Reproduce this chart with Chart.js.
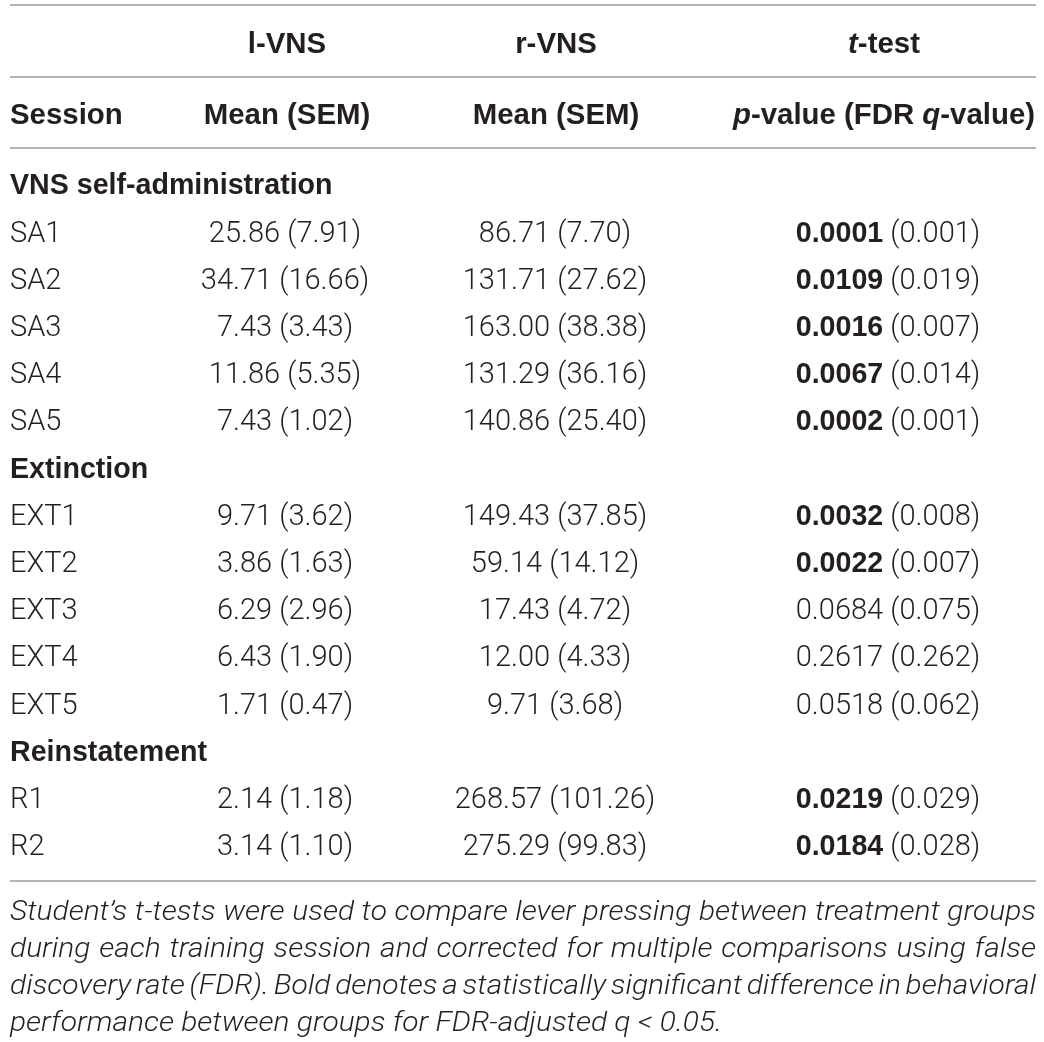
<!DOCTYPE html>
<html><head><meta charset="utf-8">
<script src="https://cdn.jsdelivr.net/npm/chart.js@4.4.1/dist/chart.umd.min.js"></script>
<style>html,body{margin:0;padding:0;background:#fff;overflow:hidden}#wrap{width:1044px;height:1042px}</style>
</head><body><div id="wrap"><canvas id="c" width="1044" height="1042"></canvas></div>
<script>
// ---- data ----
const sections = ["VNS self-administration", "Extinction", "Reinstatement"];
const sessionLabels = ["SA1","SA2","SA3","SA4","SA5","EXT1","EXT2","EXT3","EXT4","EXT5","R1","R2"];
const sessionSection = [0,0,0,0,0,1,1,1,1,1,2,2];
const lMean = [25.86,34.71,7.43,11.86,7.43,9.71,3.86,6.29,6.43,1.71,2.14,3.14];
const lSem  = [7.91,16.66,3.43,5.35,1.02,3.62,1.63,2.96,1.90,0.47,1.18,1.10];
const rMean = [86.71,131.71,163.00,131.29,140.86,149.43,59.14,17.43,12.00,9.71,268.57,275.29];
const rSem  = [7.70,27.62,38.38,36.16,25.40,37.85,14.12,4.72,4.33,3.68,101.26,99.83];
const pValue = [0.0001,0.0109,0.0016,0.0067,0.0002,0.0032,0.0022,0.0684,0.2617,0.0518,0.0219,0.0184];
const qValue = [0.001,0.019,0.007,0.014,0.001,0.008,0.007,0.075,0.262,0.062,0.029,0.028];
const groupHeaders = [[{t:"l-VNS",s:"h"}],[{t:"r-VNS",s:"h"}],[{t:"t",s:"hi"},{t:"-test",s:"h"}]];
const columnHeaders = [
  [{t:"Session",s:"h"}],
  [{t:"Mean (SEM)",s:"h"}],
  [{t:"Mean (SEM)",s:"h"}],
  [{t:"p",s:"hi"},{t:"-value (FDR ",s:"h"},{t:"q",s:"hi"},{t:"-value)",s:"h"}]
];
const footnoteLines = [
  "Student\u2019s t-tests were used to compare lever pressing between treatment groups",
  "during each training session and corrected for multiple comparisons using false",
  "discovery rate (FDR). Bold denotes a statistically significant difference in behavioral",
  "performance between groups for FDR-adjusted q < 0.05."
];
const alpha = 0.05;

// ---- layout (not data) ----
const L = {
  colX: [10, 285, 555, 888],
  headX: [10, 287, 556, 884],
  colAlign: ["left","center","center","center"],
  groupRow: -3.0, headRow: -1.5,
  rules: [-3.79, -2.27, -0.76, 14.77],
  footBase0: 920, footStep: 37.1,
  lastLineEnd: 722,
  left: 10, right: 1036,
  size: 29, boldSize: 28.6, headSize: 29.4, footSize: 27.5,
  ink: "#231f20", rule: "#b3b4b6"
};
const LIGHT = "Roboto, 'Helvetica Neue', Arial, sans-serif";
const BOLD = "'Liberation Sans', Arial, Helvetica, sans-serif";
const fonts = {
  r: `300 ${L.size}px ${LIGHT}`,
  b: `700 ${L.boldSize}px ${BOLD}`,
  h: `700 ${L.headSize}px ${BOLD}`,
  hi: `italic 700 ${L.headSize}px ${BOLD}`,
  f: `italic 300 ${L.footSize}px ${LIGHT}`
};

// ---- build rows ----
const cellRows = [];
let k = 0, lastSec = -1;
sessionLabels.forEach((lab, i) => {
  if (sessionSection[i] !== lastSec) {
    lastSec = sessionSection[i];
    cellRows.push({row: k++, section: sections[lastSec]});
  }
  const sig = qValue[i] < alpha;
  cellRows.push({row: k++, cells: [
    [{t: lab, s: "r"}],
    [{t: `${lMean[i].toFixed(2)} (${lSem[i].toFixed(2)})`, s: "r"}],
    [{t: `${rMean[i].toFixed(2)} (${rSem[i].toFixed(2)})`, s: "r"}],
    [{t: pValue[i].toFixed(4), s: sig ? "b" : "r"}, {t: ` (${qValue[i].toFixed(3)})`, s: "r"}]
  ]});
});

const datasets = [];
for (let c = 0; c < 4; c++) {
  const rows = cellRows.filter(r => r.cells);
  datasets.push({
    label: "col" + c, kind: "cell", col: c,
    runs: rows.map(r => r.cells[c]),
    data: rows.map(r => ({x: L.colX[c], y: r.row})),
    pointRadius: 0, showLine: false
  });
}
const secRows = cellRows.filter(r => r.section);
datasets.push({label: "sections", kind: "section", col: 0,
  runs: secRows.map(r => [{t: r.section, s: "b"}]),
  data: secRows.map(r => ({x: L.colX[0], y: r.row})), pointRadius: 0});
datasets.push({label: "groupHeaders", kind: "gh",
  runs: groupHeaders, cols: [1,2,3],
  data: groupHeaders.map((g, j) => ({x: L.headX[j+1], y: L.groupRow})), pointRadius: 0});
datasets.push({label: "colHeaders", kind: "ch",
  runs: columnHeaders, cols: [0,1,2,3],
  data: columnHeaders.map((g, j) => ({x: L.headX[j], y: L.headRow})), pointRadius: 0});

function drawRuns(ctx, runs, x, yMid, align) {
  let w = 0;
  runs.forEach(r => { ctx.font = fonts[r.s]; w += ctx.measureText(r.t).width; });
  let cx = align === "left" ? x : align === "right" ? x - w : x - w / 2;
  const base = yMid + L.size * 0.36;
  runs.forEach(r => {
    ctx.font = fonts[r.s];
    ctx.fillText(r.t, cx, base);
    cx += ctx.measureText(r.t).width;
  });
}

const tablePlugin = {
  id: "table",
  afterDatasetsDraw(chart) {
    const ctx = chart.ctx;
    const ys = chart.scales.y, xs = chart.scales.x;
    ctx.save();
    ctx.fillStyle = L.ink;
    ctx.textBaseline = "alphabetic";
    ctx.textAlign = "left";
    ctx.strokeStyle = L.rule; ctx.lineWidth = 2;
    L.rules.forEach(r => {
      const y = Math.round(ys.getPixelForValue(r));
      ctx.beginPath(); ctx.moveTo(xs.getPixelForValue(L.left), y); ctx.lineTo(xs.getPixelForValue(L.right), y); ctx.stroke();
    });
    chart.data.datasets.forEach((ds, di) => {
      const meta = chart.getDatasetMeta(di);
      meta.data.forEach((el, i) => {
        let c = ds.col;
        if (ds.cols) c = ds.cols[i];
        const align = ds.kind === "section" ? "left" : L.colAlign[c];
        drawRuns(ctx, ds.runs[i], el.x, el.y, align);
      });
    });
    // footnote: horizontal scale fitted to last line, first lines justified
    ctx.font = fonts.f;
    const x0 = xs.getPixelForValue(L.left);
    const W = xs.getPixelForValue(L.right) - x0;
    const lastW = ctx.measureText(footnoteLines[footnoteLines.length - 1]).width;
    const sx = (xs.getPixelForValue(L.lastLineEnd) - x0) / lastW;
    footnoteLines.forEach((line, i) => {
      const base = L.footBase0 + i * L.footStep;
      ctx.save();
      ctx.translate(x0, base);
      ctx.scale(sx, 1);
      if (i === footnoteLines.length - 1) { ctx.fillText(line, 0, 0); ctx.restore(); return; }
      const words = line.split(" ");
      const ww = words.map(w => ctx.measureText(w).width);
      const sum = ww.reduce((a, b) => a + b, 0);
      const gap = (W / sx - sum) / (words.length - 1);
      let x = 0;
      words.forEach((w, j) => { ctx.fillText(w, x, 0); x += ww[j] + gap; });
      ctx.restore();
    });
    ctx.restore();
  }
};

const rowPx = 47.2, row0Px = 184, H = 1042;
new Chart(document.getElementById("c"), {
  type: "scatter",
  data: {datasets},
  options: {
    responsive: false, animation: false, devicePixelRatio: 1,
    layout: {padding: 0},
    plugins: {legend: {display: false}, tooltip: {enabled: false}},
    events: [],
    scales: {
      x: {type: "linear", min: 0, max: 1044, display: false},
      y: {type: "linear", reverse: true, min: -row0Px / rowPx, max: (H - row0Px) / rowPx, display: false}
    }
  },
  plugins: [tablePlugin]
});
</script></body></html>
